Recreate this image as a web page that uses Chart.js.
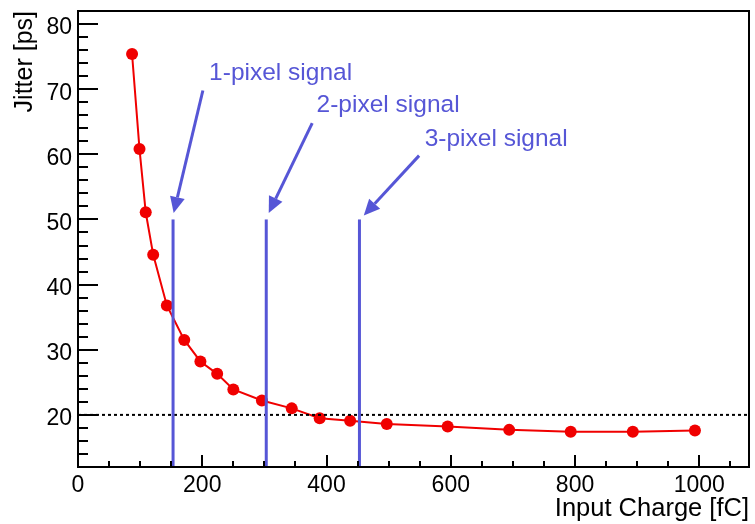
<!DOCTYPE html>
<html>
<head>
<meta charset="utf-8">
<script src="https://cdn.jsdelivr.net/npm/chart.js@4.4.0/dist/chart.umd.min.js"></script>
<style>
html,body{margin:0;padding:0;background:#fff;}
#wrap{width:755px;height:524px;}
</style>
</head>
<body>
<div id="wrap"><canvas id="c" width="755" height="524"></canvas></div>
<script>
// ---- data ----
const charge = [87, 99, 109, 121, 143, 171, 197, 224, 250, 296, 344, 389, 438, 497, 595, 694, 793, 893, 993];
const jitter = [75.4, 60.8, 51.1, 44.6, 36.8, 31.5, 28.2, 26.3, 23.9, 22.2, 21.0, 19.5, 19.1, 18.6, 18.2, 17.7, 17.4, 17.4, 17.6];
const xTickValues = [0, 200, 400, 600, 800, 1000];
const yTickValues = [20, 30, 40, 50, 60, 70, 80];
const signalCharge = [153, 303, 453];
const signalTop = 50;
const signalLabels = ['1-pixel signal', '2-pixel signal', '3-pixel signal'];
const thresholdJitter = 20;
// annotation anchors in data coordinates (charge, jitter)
const labelAnchors = [[211, 71.4], [384, 66.5], [558, 61.3]];
const arrowTails = [[201, 69.8], [377, 64.8], [549, 59.8]];
const arrowTips = [[154, 51], [307, 51], [460, 50.6]];

// ---- styling ----
const FONT = "'Liberation Sans', Arial, Helvetica, sans-serif";
const BLUE = '#5656d6';
const RED = '#f00000';
const X_MIN = 0, X_MAX = 1080, Y_MIN = 12, Y_MAX = 82;

const datasets = [];
signalCharge.forEach(c => {
  datasets.push({
    data: [{x: c, y: Y_MIN}, {x: c, y: signalTop}],
    borderColor: BLUE, borderWidth: 3, pointRadius: 0, tension: 0
  });
});
datasets.push({
  data: [{x: X_MIN, y: thresholdJitter}, {x: X_MAX, y: thresholdJitter}],
  borderColor: '#000', borderWidth: 2, borderDash: [3, 3], pointRadius: 0
});
datasets.push({
  data: charge.map((c, i) => ({x: c, y: jitter[i]})),
  borderColor: RED, borderWidth: 2, pointRadius: 6,
  pointBackgroundColor: RED, pointBorderColor: RED, pointBorderWidth: 0, tension: 0
});

const deco = {
  id: 'deco',
  afterDatasetsDraw(chart) {
    const {ctx, chartArea: a, scales: {x, y}} = chart;
    ctx.save();
    // arrows and labels
    ctx.strokeStyle = BLUE; ctx.fillStyle = BLUE; ctx.lineWidth = 3;
    for (let i = 0; i < arrowTails.length; i++) {
      const x0 = x.getPixelForValue(arrowTails[i][0]), y0 = y.getPixelForValue(arrowTails[i][1]);
      const x1 = x.getPixelForValue(arrowTips[i][0]), y1 = y.getPixelForValue(arrowTips[i][1]);
      const ang = Math.atan2(y1 - y0, x1 - x0);
      const hl = 16, hw = 7.5;
      const bx = x1 - hl * Math.cos(ang), by = y1 - hl * Math.sin(ang);
      ctx.beginPath(); ctx.moveTo(x0, y0); ctx.lineTo(bx, by); ctx.stroke();
      ctx.beginPath();
      ctx.moveTo(x1, y1);
      ctx.lineTo(bx + hw * Math.sin(ang), by - hw * Math.cos(ang));
      ctx.lineTo(bx - hw * Math.sin(ang), by + hw * Math.cos(ang));
      ctx.closePath(); ctx.fill();
    }
    ctx.font = '24.5px ' + FONT;
    ctx.textAlign = 'left'; ctx.textBaseline = 'alphabetic';
    signalLabels.forEach((t, i) => {
      ctx.fillText(t, x.getPixelForValue(labelAnchors[i][0]), y.getPixelForValue(labelAnchors[i][1]));
    });
    // frame and ticks
    ctx.strokeStyle = '#000'; ctx.lineWidth = 2;
    ctx.beginPath();
    for (let v = Y_MIN + 2; v < Y_MAX; v += 2) {
      const py = Math.round(y.getPixelForValue(v));
      const len = (v % 10 === 0) ? 20 : 10;
      ctx.moveTo(a.left, py); ctx.lineTo(a.left + len, py);
    }
    for (let v = 50; v < X_MAX; v += 50) {
      const px = Math.round(x.getPixelForValue(v));
      const len = (v % 200 === 0) ? 12 : 6;
      ctx.moveTo(px, a.bottom); ctx.lineTo(px, a.bottom - len);
    }
    ctx.stroke();
    ctx.strokeRect(a.left, a.top, a.right - a.left, a.bottom - a.top);
    ctx.restore();
  }
};

new Chart(document.getElementById('c'), {
  type: 'line',
  data: {datasets},
  options: {
    responsive: false,
    devicePixelRatio: 1,
    animation: false,
    events: [],
    layout: {padding: {top: 11, right: 4, left: 0, bottom: 0}},
    plugins: {legend: {display: false}, tooltip: {enabled: false}},
    scales: {
      x: {
        type: 'linear', min: X_MIN, max: X_MAX,
        afterBuildTicks: s => { s.ticks = xTickValues.map(v => ({value: v})); },
        afterFit: s => { s.height = 57; },
        grid: {display: false, drawTicks: false},
        border: {display: false},
        ticks: {font: {family: FONT, size: 23, lineHeight: 1}, color: '#000', padding: 7, maxRotation: 0, autoSkip: false,
                callback: v => String(v)},
        title: {display: true, text: 'Input Charge [fC]', align: 'end', color: '#000',
                font: {family: FONT, size: 25.5}, padding: {top: 0, bottom: 0}}
      },
      y: {
        type: 'linear', min: Y_MIN, max: Y_MAX,
        afterBuildTicks: s => { s.ticks = yTickValues.map(v => ({value: v})); },
        afterFit: s => { s.width = 78; },
        grid: {display: false, drawTicks: false},
        border: {display: false},
        ticks: {font: {family: FONT, size: 23, lineHeight: 0.3}, color: '#000', padding: 6, labelOffset: 4,
                callback: v => String(v)},
        title: {display: true, text: 'Jitter [ps]', align: 'end', color: '#000',
                font: {family: FONT, size: 25}, padding: {top: 10, bottom: 0}}
      }
    }
  },
  plugins: [deco]
});
</script>
</body>
</html>
